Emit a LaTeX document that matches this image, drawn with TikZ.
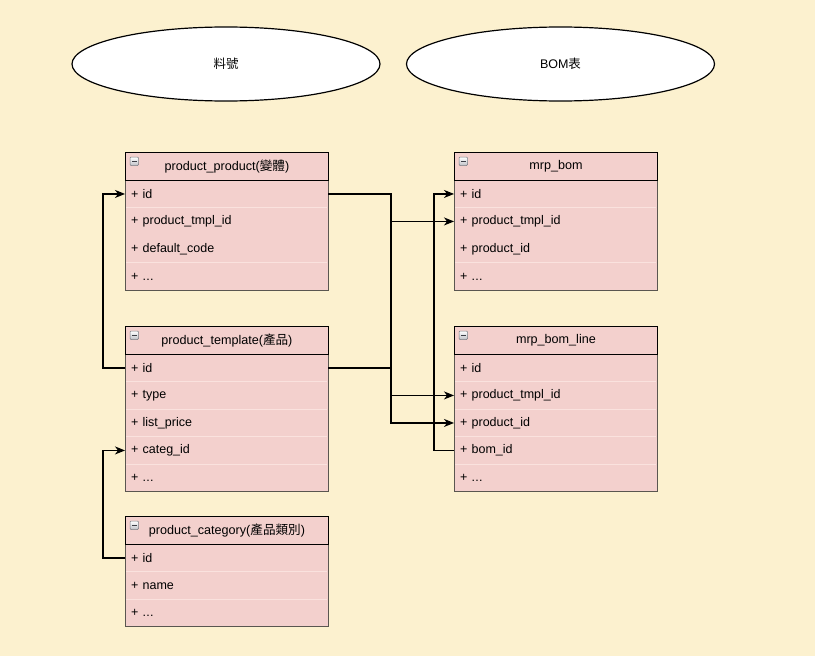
\documentclass[tikz,border=0pt]{standalone}
\usepackage{fontspec}
\setmainfont{Liberation Sans}
\newfontfamily\cjk{Noto Sans CJK TC}
\usetikzlibrary{arrows.meta,shapes.geometric}

\definecolor{paper}{RGB}{252,241,207}
\definecolor{tablefill}{RGB}{243,208,205}
\definecolor{tableline}{RGB}{90,86,80}
\definecolor{rowsep}{RGB}{250,226,222}
\definecolor{iconfill}{RGB}{190,192,198}
\definecolor{iconedge}{RGB}{120,122,128}
\definecolor{iconbar}{RGB}{60,62,70}

\newcommand\moreattrs{.\kern0.3pt.\kern0.3pt.}

\tikzset{
  erhead/.style={rectangle, draw=black, line width=0.9pt, fill=tablefill,
    minimum width=203pt, minimum height=28pt, inner sep=0pt,
    font=\fontsize{12.6}{14}\selectfont},
  errow/.style={rectangle, minimum width=203pt, minimum height=27.5pt,
    inner xsep=6pt, inner ysep=0pt, text width=191pt, align=left,
    font=\fontsize{12.5}{14}\selectfont},
  erframe/.style={draw=tableline, line width=0.9pt},
  seam/.style={draw=rowsep, line width=0.8pt},
  bubble/.style={ellipse, draw=black, line width=1.2pt, fill=white,
    minimum width=308pt, minimum height=74pt, inner sep=0pt,
    font=\fontsize{12.5}{14}\selectfont},
  fk/.style={draw=black, line width=1.2pt,
    -{Stealth[length=10pt,width=8pt,inset=3pt]}},
}

% #1 name, #2 left x, #3 top y, #4 title, #5 number of rows,
% #6 rows, #7 rows that get a seam above
\newcommand\erentity[7]{%
  \fill[tablefill] (#2,#3) rectangle (#2+203,{#3+28+27.5*#5});
  \foreach \s in {#7} {
    \draw[seam] (#2+1,{#3+28+27.5*(\s-1)}) -- (#2+202,{#3+28+27.5*(\s-1)});
  }
  \foreach \r [count=\i] in {#6} {
    \node[errow, anchor=north west] (#1-\i) at (#2,{#3+28+27.5*(\i-1)}) {+ \r};
  }
  \draw[erframe] (#2,#3) rectangle (#2+203,{#3+28+27.5*#5});
  \node[erhead, anchor=north west] (#1) at (#2,#3) {#4};
  % collapse button
  \draw[draw=iconedge, line width=0.5pt, top color=white, bottom color=iconfill,
        rounded corners=1pt] (#2+5,#3+5) rectangle (#2+13.5,#3+13.5);
  \draw[line width=1.6pt, draw=iconbar] (#2+7,#3+9.3) -- (#2+11.5,#3+9.3);
}

\begin{document}
\begin{tikzpicture}[x=1pt,y=-1pt]
  \fill[paper] (0,0) rectangle (815,656);
  \useasboundingbox (0,0) rectangle (815,656);

  % group captions
  \node[bubble] (part) at (226,64) {{\cjk 料號}};
  \node[bubble] (bomcap) at (560.5,64) {BOM{\cjk 表}};

  % tables
  \erentity{pp}{125}{152}{product\_product({\cjk 變體})}{4}
    {id, product\_tmpl\_id, default\_code, \moreattrs}{2,4}
  \erentity{pt}{125}{326}{product\_template({\cjk 產品})}{5}
    {id, type, list\_price, categ\_id, \moreattrs}{2,3,4,5}
  \erentity{pc}{125}{516}{product\_category({\cjk 產品類別})}{3}
    {id, name, \moreattrs}{2,3}
  \erentity{bom}{454}{152}{mrp\_bom}{4}
    {id, product\_tmpl\_id, product\_id, \moreattrs}{2,4}
  \erentity{bl}{454}{326}{mrp\_bom\_line}{5}
    {id, product\_tmpl\_id, product\_id, bom\_id, \moreattrs}{2,3,4,5}

  % routing lanes
  \coordinate (lanel) at (103,0);
  \coordinate (lanem) at (391,0);
  \coordinate (laner) at (434,0);

  % foreign keys
  \draw[fk] (pt-1.west) -- (pt-1.west -| lanel) |- (pp-1.west);
  \draw[fk] (pc-1.west) -- (pc-1.west -| lanel) |- (pt-4.west);
  \draw[fk] (bl-4.west) -- (bl-4.west -| laner) |- (bom-1.west);
  \draw[fk] (pp-1.east) -- (pp-1.east -| lanem) |- (bl-3.west);
  \draw[fk] (pt-1.east) -- (pt-1.east -| lanem) |- (bom-2.west);
  \draw[fk] (pt-1.east) -- (pt-1.east -| lanem) |- (bl-2.west);
\end{tikzpicture}
\end{document}
